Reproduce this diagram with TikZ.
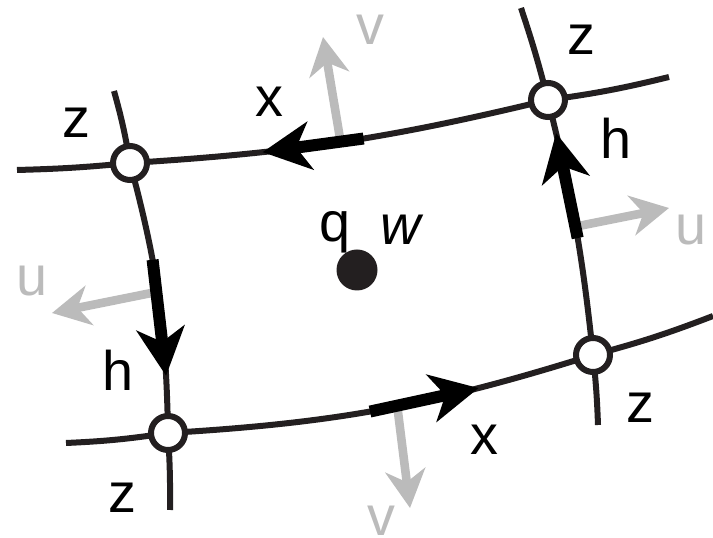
\documentclass[tikz,border=0pt]{standalone}
\usepackage{fontspec}
\setmainfont{Liberation Sans}
\usepackage{tikz}
\usetikzlibrary{arrows.meta, backgrounds}

\definecolor{ink}{HTML}{231F20}
\definecolor{lgray}{HTML}{BBBBBB}

\begin{document}
\begin{tikzpicture}[x=0.5bp, y=0.5bp,
    vtx/.style={circle,draw=ink,fill=white,line width=3bp,minimum size=17bp,inner sep=0pt},
    dot/.style={circle,fill=ink,minimum size=20.5bp,inner sep=0pt},
    grid/.style={draw=ink,line width=3bp},
    fwd/.style={line width=6bp,-{Stealth[length=24bp,width=24bp,inset=7bp]}},
    nrm/.style={lgray,line width=4.3bp,shorten <=2bp,-{Stealth[length=19bp,width=20bp,inset=6bp]}},
    lbl/.style={font=\fontsize{28}{30}\selectfont,inner sep=0pt}]
        \useasboundingbox (0,0) rectangle (713,538);

        % Crossings of the grid
        \node[vtx] (tl) at (130,375) {};
        \node[vtx] (tr) at (548,438) {};
        \node[vtx] (br) at (593,183) {};
        \node[vtx] (bl) at (168,105) {};

        % Free ends of the grid lines
        \coordinate (t0) at (17,368);  \coordinate (t3) at (669,461);
        \coordinate (b0) at (66,95);   \coordinate (b3) at (713,222);
        \coordinate (l0) at (114,447); \coordinate (l3) at (170,28);
        \coordinate (r0) at (521,530); \coordinate (r3) at (598,113);

        % Grid lines, behind the crossings
        \begin{scope}[on background layer]
        \draw[grid] (t0) to[bend right=2] (tl.center) to[bend right=5] (tr.center) to[bend right=3] (t3);
        \draw[grid] (b0) to[bend right=3] (bl.center) to[bend right=7] (br.center) to[bend right=3] (b3);
        \draw[grid] (l0) to[bend left=3] (tl.center) to[bend left=7] (bl.center) to[bend left=2] (l3);
        \draw[grid] (r0) to[bend left=2] (tr.center) to[bend left=4] (br.center) to[bend left=2] (r3);
        \end{scope}

        % Points on the edges
        \path (tl.center) to[bend right=5] coordinate[pos=.30] (xth) coordinate[pos=.50] (vt)
              coordinate[pos=.56] (xtt) (tr.center);
        \path (bl.center) to[bend right=7] coordinate[pos=.466] (xbt) coordinate[pos=.536] (vb)
              coordinate[pos=.741] (xbh) (br.center);
        \path (tl.center) to[bend left=7] coordinate[pos=.352] (hlt) coordinate[pos=.48] (ul)
              coordinate[pos=.807] (hlh) (bl.center);
        \path (tr.center) to[bend left=4] coordinate[pos=.118] (hrh) coordinate[pos=.50] (ur)
              coordinate[pos=.549] (hrt) (br.center);

        % Normals
        \coordinate (vtt) at (323,501);
        \coordinate (vbt) at (410,30);
        \coordinate (ult) at (52,225);
        \coordinate (urt) at (669,330);
        \draw[nrm] (vt) -- (vtt);
        \draw[nrm] (vb) -- (vbt);
        \draw[nrm] (ul) -- (ult);
        \draw[nrm] (ur) -- (urt);

        % Edge directions
        \draw[fwd] (xtt) -- (xth);
        \draw[fwd] (xbt) -- (xbh);
        \draw[fwd] (hlt) -- (hlh);
        \draw[fwd] (hrt) -- (hrh);

        % Cell centre
        \node[dot] (p) at (357,268) {};

        % Labels
        \node[lbl] (ztl) at (76,415) {z};
        \node[lbl] (ztr) at (581,498) {z};
        \node[lbl] (zbr) at (640,130) {z};
        \node[lbl] (zbl) at (122,40) {z};
        \node[lbl] (xt) at (269,436) {x};
        \node[lbl] (xb) at (484,98) {x};
        \node[lbl] (hl) at (118,168) {h};
        \node[lbl] (hr) at (616,400) {h};
        \node[lbl] (q) at (335,306) {q};
        \node[lbl] (w) at (401,308) {\itshape w};
        \node[lbl,text=lgray] (vtl) at (370,508) {v};
        \node[lbl,text=lgray] (vbl) at (381,17) {v};
        \node[lbl,text=lgray] (ull) at (32,257) {u};
        \node[lbl,text=lgray] (url) at (691,308) {u};
\end{tikzpicture}
\end{document}
